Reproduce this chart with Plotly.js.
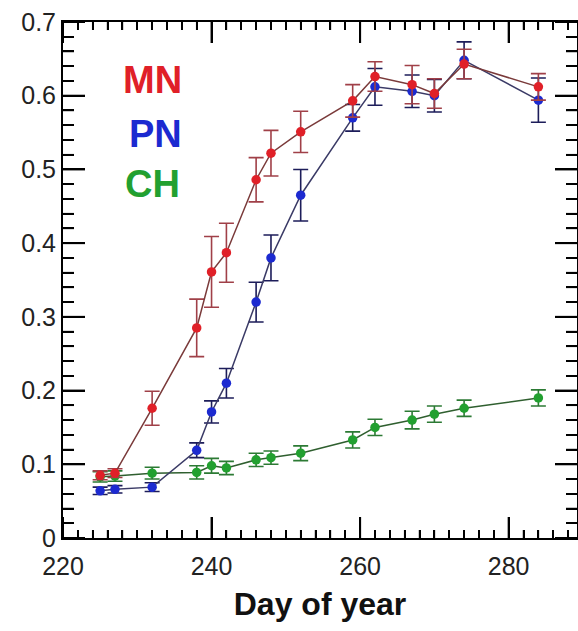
<!DOCTYPE html>
<html>
<head>
<meta charset="utf-8">
<script src="https://cdn.plot.ly/plotly-3.0.1.min.js"></script>
<style>html,body{margin:0;padding:0;background:#fff;}#chart{width:578px;height:631px;}</style>
</head>
<body>
<div id="chart"></div>
<script>
const days = [225, 227, 232, 238, 240, 242, 246, 248, 252, 259, 262, 267, 270, 274, 284];
const mnValues = [0.085, 0.088, 0.176, 0.285, 0.361, 0.387, 0.486, 0.522, 0.551, 0.593, 0.626, 0.615, 0.603, 0.643, 0.612];
const mnErrors = [0.006, 0.006, 0.023, 0.039, 0.048, 0.040, 0.030, 0.031, 0.028, 0.022, 0.020, 0.026, 0.020, 0.020, 0.018];
const pnValues = [0.064, 0.066, 0.069, 0.119, 0.171, 0.210, 0.320, 0.380, 0.465, 0.570, 0.612, 0.606, 0.600, 0.648, 0.594];
const pnErrors = [0.005, 0.005, 0.006, 0.010, 0.015, 0.020, 0.027, 0.031, 0.035, 0.018, 0.025, 0.022, 0.022, 0.025, 0.030];
const chValues = [0.083, 0.084, 0.088, 0.089, 0.098, 0.095, 0.106, 0.109, 0.115, 0.133, 0.150, 0.160, 0.168, 0.176, 0.190];
const chErrors = [0.007, 0.007, 0.008, 0.009, 0.010, 0.009, 0.009, 0.009, 0.010, 0.011, 0.011, 0.012, 0.011, 0.011, 0.011];
const xTicks = [220, 240, 260, 280];
const yTicks = [0, 0.1, 0.2, 0.3, 0.4, 0.5, 0.6, 0.7];
const seriesNames = ['MN', 'PN', 'CH'];

const W = 578, H = 631;
const margin = {l: 63, r: 1, t: 22, b: 93};
const xRange = [220, 289.2];
const yRange = [0, 0.7];
const tc = '#000000';
const fontFam = 'Liberation Sans, Arial, sans-serif';
const axisFont = {family: fontFam, size: 25, color: '#222222'};

// inward tick marks (frame decoration) built from the tick values, lengths converted from pixels
const xPerPx = (xRange[1] - xRange[0]) / (W - margin.l - margin.r);
const yPerPx = (yRange[1] - yRange[0]) / (H - margin.t - margin.b);
const xMinorTicks = [];
for (let t = 222; t < xRange[1]; t += 2) if (t % 20 !== 0) xMinorTicks.push(t);
const yMinorTicks = [];
for (let k = 1; k < 35; k++) if (k % 5 !== 0) yMinorTicks.push(Math.round(k * 2) / 100);

function tickTrace(xt, yt, xLenPx, yLenPx, width) {
  const x = [], y = [];
  const xl = xLenPx * yPerPx, yl = yLenPx * xPerPx;
  xt.forEach(t => {
    x.push(t, t, null, t, t, null);
    y.push(yRange[0], yRange[0] + xl, null, yRange[1], yRange[1] - xl, null);
  });
  yt.forEach(v => {
    x.push(xRange[0], xRange[0] + yl, null, xRange[1], xRange[1] - yl, null);
    y.push(v, v, null, v, v, null);
  });
  return {type: 'scatter', mode: 'lines', x: x, y: y, line: {color: tc, width: width},
    connectgaps: false, hoverinfo: 'skip', showlegend: false};
}

function series(name, y, err, mColor, lColor, eColor) {
  return {
    type: 'scatter', mode: 'lines+markers', name: name, x: days, y: y,
    line: {color: lColor, width: 1.5},
    marker: {color: mColor, size: 9.5, symbol: 'circle'},
    error_y: {type: 'data', array: err, visible: true, color: eColor, thickness: 1.6, width: 7.5}
  };
}

const traces = [
  tickTrace(xTicks, yTicks, 21, 22, 2),
  tickTrace(xMinorTicks, yMinorTicks, 8, 11, 1.5),
  series(seriesNames[2], chValues, chErrors, '#22a030', '#2f5f2f', '#2c7a34'),
  series(seriesNames[1], pnValues, pnErrors, '#1c2ad0', '#3a3a66', '#1d1d5a'),
  series(seriesNames[0], mnValues, mnErrors, '#e02028', '#7a3a3a', '#a04048')
];

const layout = {
  width: W, height: H,
  margin: margin,
  showlegend: false,
  hovermode: false,
  xaxis: {
    range: xRange, tickvals: xTicks, ticks: 'inside', ticklen: 21, tickwidth: 2, tickcolor: tc,
    showline: true, linecolor: tc, linewidth: 2, mirror: 'ticks', showgrid: false, zeroline: false,
    minor: {dtick: 2, ticks: 'inside', ticklen: 8, tickwidth: 1.5, tickcolor: tc, showgrid: false},
    tickfont: axisFont, ticklabelstandoff: 5,
    title: {text: '<b>Day of year</b>', font: {family: fontFam, size: 32, color: '#111111'}, standoff: 14}
  },
  yaxis: {
    range: yRange, dtick: 0.1, ticks: 'inside', ticklen: 22, tickwidth: 2, tickcolor: tc,
    showline: true, linecolor: tc, linewidth: 2, mirror: 'ticks', showgrid: false, zeroline: false,
    minor: {dtick: 0.02, ticks: 'inside', ticklen: 11, tickwidth: 1.5, tickcolor: tc, showgrid: false},
    tickfont: axisFont
  },
  annotations: [
    {text: '<b>MN</b>', x: 0.113, y: 0.888, color: '#e02028'},
    {text: '<b>PN</b>', x: 0.124, y: 0.783, color: '#1c2ad0'},
    {text: '<b>CH</b>', x: 0.116, y: 0.686, color: '#22a030'}
  ].map(a => ({
    text: a.text, xref: 'paper', yref: 'paper', x: a.x, y: a.y, xanchor: 'left', yanchor: 'middle',
    showarrow: false, font: {family: fontFam, size: 38, color: a.color}
  }))
};

Plotly.newPlot('chart', traces, layout, {displayModeBar: false});
</script>
</body>
</html>
